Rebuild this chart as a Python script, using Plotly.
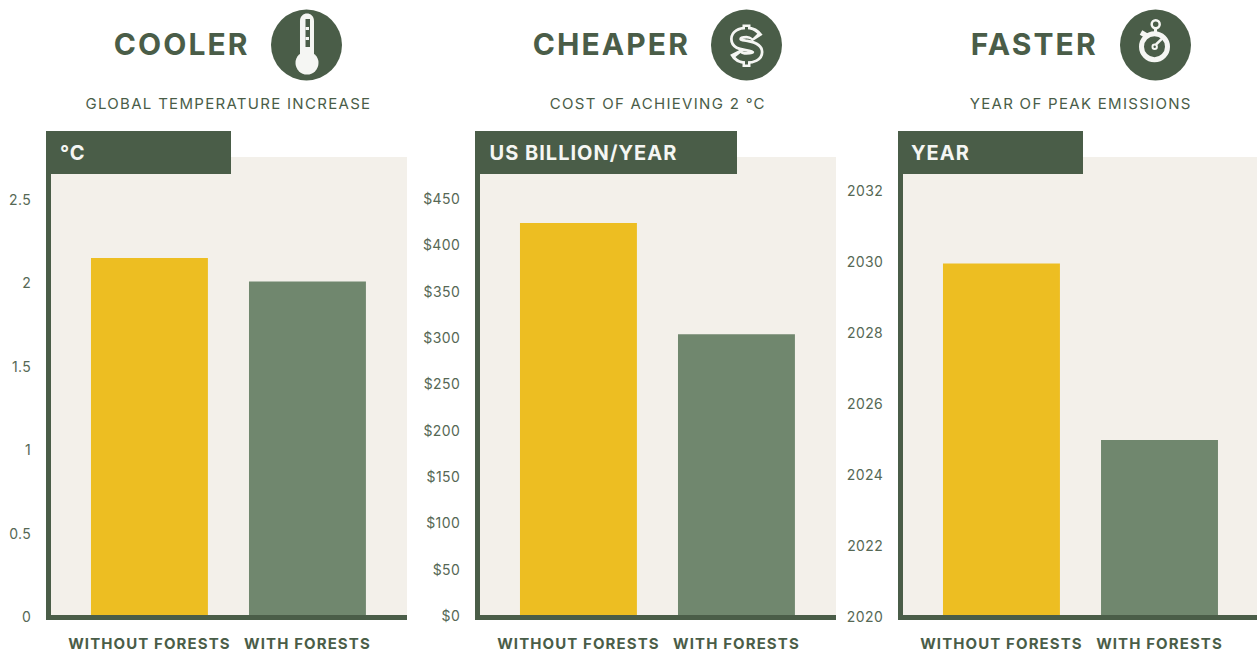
import plotly.graph_objects as go

W, H = 1257, 650
DARK = "#4a5d48"; BG = "#f3f0ea"; YEL = "#edbe22"; GRN = "#70876e"; WHT = "#f5f6f3"
FONT = "Inter"

categories = ["WITHOUT FORESTS", "WITH FORESTS"]
temperature = [2.14, 2.0]
cost = [423, 303]
peak_year = [2029.9, 2024.93]

temp_ticks = [0, 0.5, 1, 1.5, 2, 2.5]
temp_labels = ["0", "0.5", "1", "1.5", "2", "2.5"]
cost_ticks = [0, 50, 100, 150, 200, 250, 300, 350, 400, 450]
cost_labels = ["$" + str(v) for v in cost_ticks]
year_ticks = [2020, 2022, 2024, 2026, 2028, 2030, 2032]
year_labels = [str(v) for v in year_ticks]

titles = ["COOLER", "CHEAPER", "FASTER"]
subtitles = ["GLOBAL TEMPERATURE INCREASE", "COST OF ACHIEVING 2 °C", "YEAR OF PEAK EMISSIONS"]
units = ["°C", "US BILLION/YEAR", "YEAR"]


def px(x): return x / W
def py(y): return 1 - y / H


def path(cmds):
    out = []
    for c in cmds:
        if isinstance(c, str):
            out.append(c)
        else:
            out.append(f"{px(c[0]):.5f},{py(c[1]):.5f}")
    return " ".join(out)


fig = go.Figure()
panels = [
    dict(dom=(51, 407), xr=(-0.623, 1.63), yr=(0, 458 / 166.8), vals=temperature, t=temp_ticks, l=temp_labels, s="", shift=2),
    dict(dom=(480, 836), xr=(-0.623, 1.63), yr=(0, 458 / 0.9267), vals=cost, t=cost_ticks, l=cost_labels, s="2", shift=1),
    dict(dom=(903, 1257), xr=(-0.623, 1.617), yr=(2020, 2020 + 458 / 35.5), vals=peak_year, t=year_ticks, l=year_labels, s="3", shift=2),
]
layout = {}
for p in panels:
    s = p["s"]
    fig.add_trace(go.Bar(x=[0, 1], y=p["vals"], width=0.74, marker=dict(color=[YEL, GRN], line_width=0),
                         xaxis="x" + s, yaxis="y" + s, showlegend=False))
    layout["xaxis" + s] = dict(domain=[px(p["dom"][0]), px(p["dom"][1])], anchor="y" + s, range=list(p["xr"]),
                               tickmode="array", tickvals=[0, 1], ticktext=categories, ticks="", automargin=False,
                               showline=True, linecolor=DARK, linewidth=5, showgrid=False, zeroline=False,
                               ticklabelstandoff=11,
                               tickfont=dict(family=FONT, size=15, color=DARK, weight="bold"))
    layout["yaxis" + s] = dict(domain=[py(615), py(157)], anchor="x" + s, range=list(p["yr"]),
                               tickmode="array", tickvals=p["t"], ticktext=p["l"], ticks="", automargin=False,
                               showline=True, linecolor=DARK, linewidth=5, showgrid=False, zeroline=False,
                               ticklabelstandoff=12, ticklabelshift=p["shift"],
                               tickfont=dict(family=FONT, size=14, color="#566855"))

shapes = []
annos = []


def rect(x0, y0, x1, y1, c):
    shapes.append(dict(type="rect", xref="paper", yref="paper", x0=px(x0), x1=px(x1), y0=py(y0), y1=py(y1),
                       fillcolor=c, line_width=0, layer="above"))


def circle(cx, cy, r, fill=None, line=None, lw=0):
    shapes.append(dict(type="circle", xref="paper", yref="paper", x0=px(cx - r), x1=px(cx + r), y0=py(cy + r), y1=py(cy - r),
                       fillcolor=fill or "rgba(0,0,0,0)", line=dict(color=line or "rgba(0,0,0,0)", width=lw), layer="above"))


def stroke(cmds, c, lw, fill=None):
    shapes.append(dict(type="path", xref="paper", yref="paper", path=path(cmds), line=dict(color=c, width=lw),
                       fillcolor=fill or "rgba(0,0,0,0)", layer="above"))


def text(x, y, s, size, color, anchor="center", weight="normal"):
    annos.append(dict(xref="paper", yref="paper", x=px(x), y=py(y), text=s, showarrow=False, xanchor=anchor, yanchor="middle",
                      font=dict(family=FONT, size=size, color=color, weight=weight)))


# panel headers
for (x0, x1), c, u in zip([(46, 231), (475, 737), (898, 1083)], [72.5, 583.5, 940.5], units):
    rect(x0, 131, x1, 174, DARK)
    text(c, 152.5, u, 20, WHT, "center", "bold")

# titles
for x, t in zip([181.5, 611, 1034], titles):
    text(x, 44, t, 30, DARK, "center", "bold")
for x, t in zip([228.5, 658, 1080.5], subtitles):
    text(x, 103.4, t, 15, DARK)

# thermometer
circle(306.5, 45, 35.5, DARK)
stroke(["M", (300, 21), "C", (300, 11), (314, 11), (314, 21), "L", (314, 55), "L", (300, 55), "Z"], WHT, 0, WHT)
circle(307, 63, 11.5, WHT)
rect(305.5, 19, 310, 47, DARK)
rect(305.5, 27, 309, 30, WHT)
rect(305.5, 37, 309, 40, WHT)

# dollar
circle(746.5, 45, 35.5, DARK)
BODY = ["C", (740, 32.5), (736, 35), (736, 39), "C", (736, 44), (741, 44.5), (746.5, 45.5),
        "C", (752, 46.5), (757.5, 48), (757.5, 52), "C", (757.5, 56), (753, 58), (746.5, 58)]
S = ["M", (757.5, 38), "C", (755, 34), (751, 32.5), (746.5, 32.5)] + BODY + ["C", (742, 58), (738, 57), (735.5, 52)]
S_in = ["M", (755, 36), "C", (753, 34), (750, 32.5), (746.5, 32.5)] + BODY + ["C", (743, 58), (740, 57.5), (738, 55)]
stroke(S, WHT, 12)
stroke(["M", (746.5, 24.5), "L", (746.5, 30)], WHT, 8)
stroke(["M", (746.5, 60), "L", (746.5, 67)], WHT, 8)
stroke(S_in, DARK, 6.5)
stroke(["M", (746.5, 27), "L", (746.5, 32)], DARK, 3)
stroke(["M", (746.5, 58), "L", (746.5, 64.5)], DARK, 3)

# stopwatch
circle(1155.5, 45, 35.5, DARK)
circle(1154.5, 46.7, 13, None, WHT, 5)
circle(1155.7, 24.3, 4, None, WHT, 2.5)
stroke(["M", (1155.5, 28), "L", (1155.5, 33)], WHT, 3)
stroke(["M", (1141, 32.5), "L", (1147, 36)], WHT, 5)
circle(1154.7, 46.7, 2.2, DARK, WHT, 2)
stroke(["M", (1156, 44.5), "L", (1162.3, 38.3)], WHT, 2.5)

fig.update_layout(width=W, height=H, margin=dict(l=0, r=0, t=0, b=0), paper_bgcolor="white", plot_bgcolor=BG,
                  shapes=shapes, annotations=annos, showlegend=False, **layout)

POST = """
document.body.style.margin = '0';
document.body.style.overflow = 'hidden';
function sp(sel, v){ document.querySelectorAll(sel).forEach(function(t){ t.style.letterSpacing = v + 'px'; }); }
document.querySelectorAll('.annotation-text').forEach(function(t){
  var f = parseFloat(t.style.fontSize);
  t.style.letterSpacing = (f >= 30 ? 2.1 : (f >= 20 ? 1.0 : 1.3)) + 'px';
});
sp('.xtick text, .x2tick text, .x3tick text', 1.1);
sp('.ytick text, .y2tick text, .y3tick text', 0.4);
"""
fig.write_html("out.html", config={"displayModeBar": False}, post_script=POST)
